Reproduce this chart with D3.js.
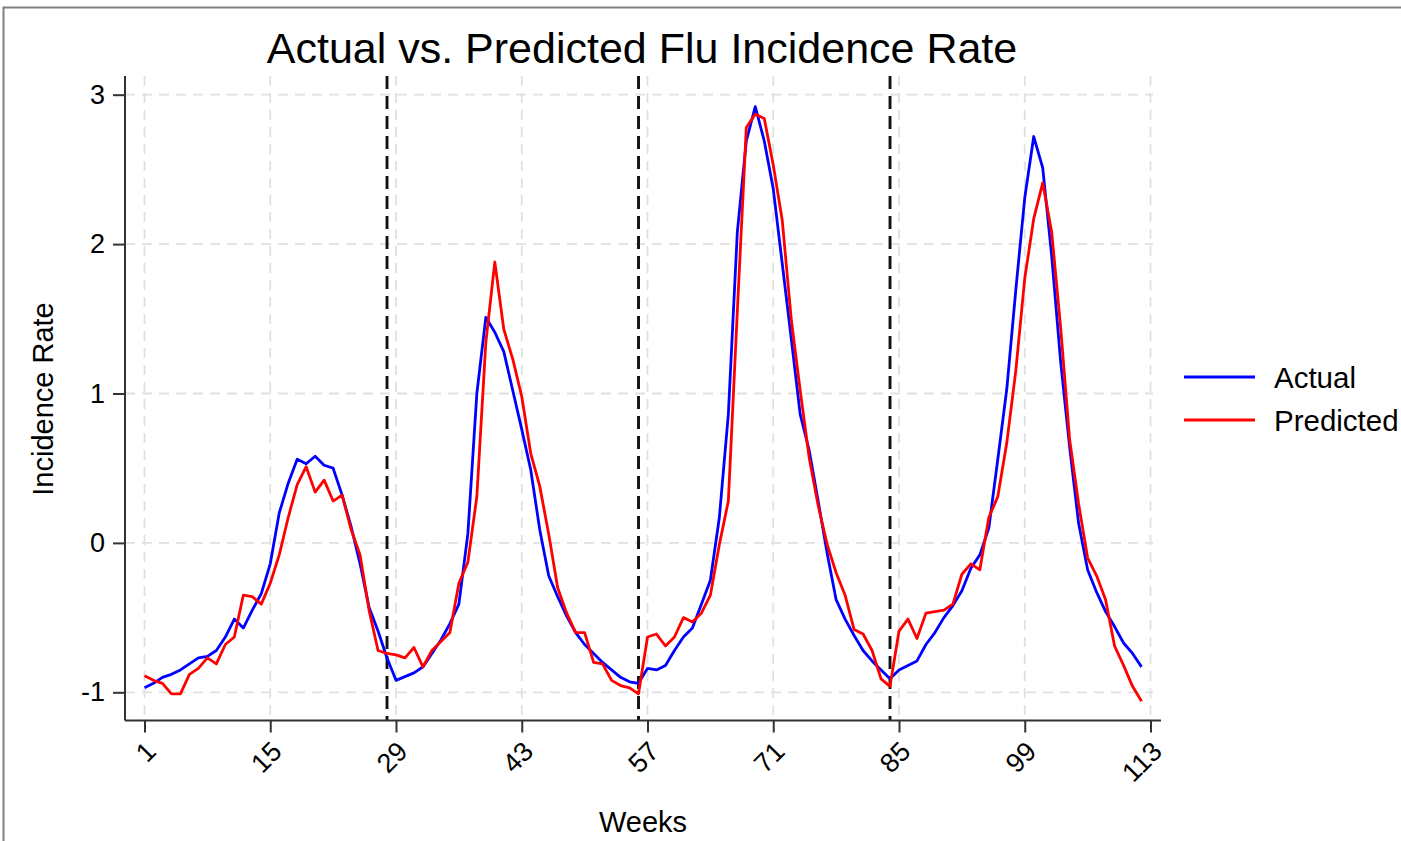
<!DOCTYPE html>
<html>
<head>
<meta charset="utf-8">
<script src="https://cdn.jsdelivr.net/npm/d3@7"></script>
<style>
  html, body { margin: 0; padding: 0; background: #fff; }
  svg { display: block; }
  text { font-family: "Liberation Sans", Arial, sans-serif; fill: #000; }
</style>
</head>
<body>
<svg id="chart" width="1401" height="841"></svg>
<script>
const weeks = d3.range(1, 113);
const actual = [
  -0.97, -0.94, -0.90, -0.88, -0.85, -0.81, -0.77, -0.76, -0.72, -0.63,
  -0.51, -0.57, -0.45, -0.34, -0.14, 0.20, 0.40, 0.56, 0.53, 0.58,
  0.52, 0.50, 0.32, 0.11, -0.14, -0.43, -0.59, -0.77, -0.92, -0.895,
  -0.87, -0.83, -0.74, -0.65, -0.54, -0.41, 0.06, 1.00, 1.51, 1.41,
  1.28, 1.02, 0.76, 0.49, 0.09, -0.22, -0.36, -0.49, -0.60, -0.68,
  -0.74, -0.80, -0.85, -0.90, -0.93, -0.94, -0.84, -0.85, -0.82, -0.72,
  -0.63, -0.57, -0.41, -0.25, 0.17, 0.86, 2.08, 2.69, 2.92, 2.69,
  2.37, 1.87, 1.37, 0.86, 0.62, 0.28, -0.07, -0.38, -0.51, -0.62,
  -0.72, -0.79, -0.85, -0.91, -0.85, -0.82, -0.79, -0.68, -0.60, -0.50,
  -0.42, -0.32, -0.17, -0.08, 0.10, 0.56, 1.03, 1.69, 2.31, 2.72,
  2.51, 1.92, 1.21, 0.64, 0.13, -0.18, -0.33, -0.46, -0.56, -0.67,
  -0.74, -0.83
];
const predicted = [
  -0.89, -0.92, -0.94, -1.01, -1.01, -0.88, -0.84, -0.77, -0.81, -0.68,
  -0.63, -0.35, -0.36, -0.41, -0.27, -0.08, 0.17, 0.39, 0.51, 0.34,
  0.42, 0.28, 0.32, 0.09, -0.08, -0.45, -0.72, -0.74, -0.75, -0.77,
  -0.70, -0.83, -0.72, -0.66, -0.60, -0.27, -0.13, 0.31, 1.34, 1.88,
  1.43, 1.23, 0.98, 0.60, 0.38, 0.06, -0.30, -0.47, -0.60, -0.60,
  -0.80, -0.81, -0.92, -0.955, -0.97, -1.01, -0.63, -0.61, -0.69, -0.63,
  -0.50, -0.53, -0.47, -0.35, -0.01, 0.28, 1.55, 2.78, 2.87, 2.84,
  2.53, 2.16, 1.50, 1.02, 0.57, 0.25, -0.01, -0.20, -0.35, -0.58,
  -0.61, -0.72, -0.91, -0.96, -0.59, -0.51, -0.64, -0.47, -0.46, -0.45,
  -0.41, -0.21, -0.14, -0.18, 0.17, 0.31, 0.67, 1.15, 1.77, 2.17,
  2.41, 2.08, 1.44, 0.69, 0.26, -0.10, -0.22, -0.38, -0.69, -0.82,
  -0.96, -1.06
];
const xTicks = [1, 15, 29, 43, 57, 71, 85, 99, 113];
const yTicks = [-1, 0, 1, 2, 3];
const seasonBreaks = [28, 56, 84];
const seriesNames = ["Actual", "Predicted"];
const seriesColors = ["#0000ff", "#ff0000"];

const svg = d3.select("#chart");

// outer frame
svg.append("rect").attr("x", 3.5).attr("y", 7.5).attr("width", 1500).attr("height", 1000)
  .attr("fill", "none").attr("stroke", "#808080").attr("stroke-width", 2);

const x = d3.scaleLinear().domain([1, 113]).range([144.5, 1150.5]);
const y = d3.scaleLinear().domain([-1, 3]).range([692.3, 94.7]);
const axisLeft = 125, axisBottom = 720.5, plotTop = 76, plotRight = 1161;

// gridlines
const grid = svg.append("g");
grid.selectAll("line.h").data(yTicks).join("line")
  .attr("x1", axisLeft).attr("x2", 1153)
  .attr("y1", d => y(d)).attr("y2", d => y(d))
  .attr("stroke", "#e0e0e0").attr("stroke-width", 1.8).attr("stroke-dasharray", "10,7");
grid.selectAll("line.v").data(xTicks).join("line")
  .attr("x1", d => x(d)).attr("x2", d => x(d))
  .attr("y1", plotTop).attr("y2", axisBottom)
  .attr("stroke", "#e0e0e0").attr("stroke-width", 1.8).attr("stroke-dasharray", "10,7");

// season break lines
svg.append("g").selectAll("line").data(seasonBreaks).join("line")
  .attr("x1", d => x(d)).attr("x2", d => x(d))
  .attr("y1", plotTop).attr("y2", axisBottom)
  .attr("stroke", "#111").attr("stroke-width", 2.9).attr("stroke-dasharray", "13,7");

// series lines
const line = d3.line().x((d, i) => x(weeks[i])).y(d => y(d));
[actual, predicted].forEach((s, i) => {
  svg.append("path").datum(s).attr("d", line)
    .attr("fill", "none").attr("stroke", seriesColors[i]).attr("stroke-width", 2.8)
    .attr("stroke-linejoin", "round");
});

// axes
const yAxis = svg.append("g").attr("transform", `translate(${axisLeft},0)`)
  .call(d3.axisLeft(y).tickValues(yTicks).tickSize(12).tickPadding(8).tickFormat(d3.format("d")));
yAxis.select(".domain").attr("d", `M0,${plotTop}V${axisBottom}`).attr("stroke", "#333").attr("stroke-width", 2);
yAxis.selectAll(".tick line").attr("stroke", "#333").attr("stroke-width", 2);
yAxis.selectAll(".tick text").attr("font-size", 27).attr("font-family", "Liberation Sans, Arial, sans-serif").attr("fill", "#000");
yAxis.selectAll(".tick text").text(d => d < 0 ? "-" + Math.abs(d) : d);

const xAxis = svg.append("g").attr("transform", `translate(0,${axisBottom})`)
  .call(d3.axisBottom(x).tickValues(xTicks).tickSize(12).tickFormat(d3.format("d")));
xAxis.select(".domain").attr("d", `M${axisLeft},0H${plotRight}`).attr("stroke", "#333").attr("stroke-width", 2);
xAxis.selectAll(".tick line").attr("stroke", "#333").attr("stroke-width", 2);
xAxis.selectAll(".tick text")
  .attr("font-size", 27).attr("font-family", "Liberation Sans, Arial, sans-serif").attr("fill", "#000")
  .attr("text-anchor", "end").attr("y", 0).attr("dy", "0.35em")
  .attr("transform", "translate(6,26) rotate(-45)");

// titles
svg.append("text").attr("x", 642).attr("y", 63).attr("text-anchor", "middle")
  .attr("font-size", 43).text("Actual vs. Predicted Flu Incidence Rate");
svg.append("text").attr("x", 643).attr("y", 832).attr("text-anchor", "middle")
  .attr("font-size", 29).text("Weeks");
svg.append("text").attr("transform", "translate(53,399) rotate(-90)").attr("text-anchor", "middle")
  .attr("font-size", 29).text("Incidence Rate");

// legend
const legend = svg.append("g");
seriesNames.forEach((n, i) => {
  const ly = 377 + i * 43;
  legend.append("line").attr("x1", 1184).attr("x2", 1255).attr("y1", ly).attr("y2", ly)
    .attr("stroke", seriesColors[i]).attr("stroke-width", 2.8);
  legend.append("text").attr("x", 1274).attr("y", ly + 11).attr("font-size", 29.5).text(n);
});
</script>
</body>
</html>
